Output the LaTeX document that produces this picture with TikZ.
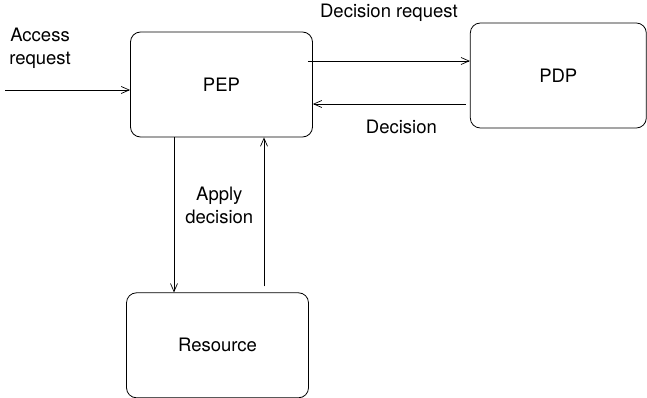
\documentclass[tikz,border=0pt]{standalone}
\usepackage{fontspec}
\setmainfont{TeX Gyre Heros}
\usetikzlibrary{arrows.meta,positioning}

\begin{document}
\begin{tikzpicture}[x=1pt,y=-1pt,>={Straight Barb[length=8pt,width=7pt]},font=\fontsize{18.5}{23}\selectfont,
  box/.style={draw,rounded corners=10pt,minimum width=182pt,minimum height=105pt,line width=0.8pt},
  flow/.style={->,line width=0.7pt},
  lbl/.style={inner sep=0pt,align=center}]
\useasboundingbox (0,0) rectangle (647,398);
\node[box] (pep) at (221.5,84.5) {PEP};
\node[box,minimum width=176pt,right=157pt of pep,yshift=9pt] (pdp) {PDP};
\node[box,below=155pt of pep,xshift=-4pt] (res) {Resource};
\coordinate (acc) at (5,90);
\draw[flow] (acc) -- (acc -| pep.west) node[lbl,pos=0.28,above=21pt] {Access\\request};
\draw[flow] ([xshift=-5pt,yshift=23.5pt]pep.east) -- ([yshift=14.5pt]pdp.west) node[lbl,midway,above=39.5pt] {Decision request};
\draw[flow] ([xshift=-4pt,yshift=-28.5pt]pdp.west) -- ([yshift=-19.5pt]pep.east) node[lbl,midway,below=15.5pt,xshift=12pt] {Decision};
\draw[flow] ([xshift=-47.5pt]pep.south) -- ([xshift=-43.5pt]res.north) node[lbl,pos=0.44,right=11pt] {Apply\\decision};
\draw[flow] ([xshift=46.5pt,yshift=6pt]res.north) -- ([xshift=42.5pt]pep.south);
\end{tikzpicture}
\end{document}
